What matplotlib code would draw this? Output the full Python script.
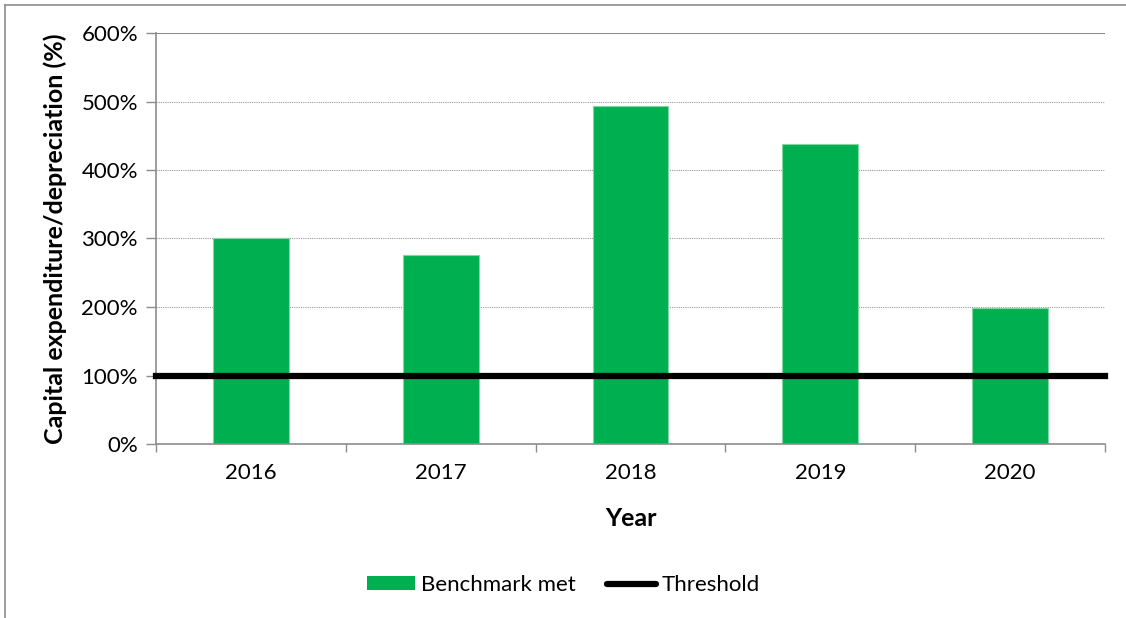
import matplotlib
matplotlib.use("Agg")
import matplotlib.pyplot as plt
from matplotlib.patches import Patch
from matplotlib.lines import Line2D
from matplotlib.ticker import FixedLocator, NullFormatter

years = ["2016", "2017", "2018", "2019", "2020"]
capex_ratio = [300, 276, 493, 438, 199]
threshold = 100
y_ticks = [0, 100, 200, 300, 400, 500, 600]

plt.rcParams["font.family"] = ["Lato", "DejaVu Sans"]

fig = plt.figure(figsize=(11.26, 6.18), dpi=100)
# chart frame: top and left edges
fig.add_artist(Line2D([5 / 1126, 1.0], [1 - 5 / 618] * 2, transform=fig.transFigure,
                      color="#8c8c8c", linewidth=1.2))
fig.add_artist(Line2D([5 / 1126] * 2, [0.0, 1 - 5 / 618], transform=fig.transFigure,
                      color="#8c8c8c", linewidth=1.2))

ax = fig.add_axes([156 / 1126, 1 - 444 / 618, (1105 - 156) / 1126, (444 - 33) / 618])

x = list(range(len(years)))
ax.bar(x, capex_ratio, width=0.4, color="#00b050", edgecolor="#7fd8a2", linewidth=0.8, zorder=2)
ax.axhline(threshold, color="black", linewidth=4.5, zorder=3, clip_on=False)

ax.set_xlim(-0.5, len(years) - 0.5)
ax.set_ylim(0, 600)
ax.set_yticks(y_ticks)
ax.set_yticklabels([f"{v}%" for v in y_ticks])
ax.set_xticks(x)
ax.set_xticklabels(years)
ax.xaxis.set_minor_locator(FixedLocator([i - 0.5 for i in range(len(years) + 1)]))
ax.xaxis.set_minor_formatter(NullFormatter())

ax.tick_params(axis="y", length=7, width=1, color="#8c8c8c", labelsize=16, pad=6)
ax.tick_params(axis="x", which="major", length=0, labelsize=16, pad=14)
ax.tick_params(axis="x", which="minor", length=6, width=1, color="#8c8c8c")

for yv in y_ticks[1:-1]:
    ax.axhline(yv, color="#999999", linewidth=0.8, linestyle=(0, (1, 1)), zorder=1)
ax.axhline(600, color="#8c8c8c", linewidth=1.5, zorder=1)

for side in ["top", "right"]:
    ax.spines[side].set_visible(False)
for side in ["left", "bottom"]:
    ax.spines[side].set_color("#8c8c8c")
    ax.spines[side].set_linewidth(1.2)

ax.set_ylabel("Capital expenditure/depreciation (%)", fontsize=18, fontweight="bold", labelpad=10)
ax.set_xlabel("Year", fontsize=18, fontweight="bold", labelpad=17)

handles = [Patch(facecolor="#00b050", edgecolor="none"),
           Line2D([0], [0], color="black", linewidth=4.5, solid_capstyle="round")]
fig.legend(handles, ["Benchmark met", "Threshold"], loc="center", bbox_to_anchor=(0.5, 1 - 585 / 618),
           ncol=2, frameon=False, fontsize=16, handlelength=2.2, handleheight=0.6,
           handletextpad=0.25, columnspacing=1.4)

fig.savefig("out.png", dpi=100)
